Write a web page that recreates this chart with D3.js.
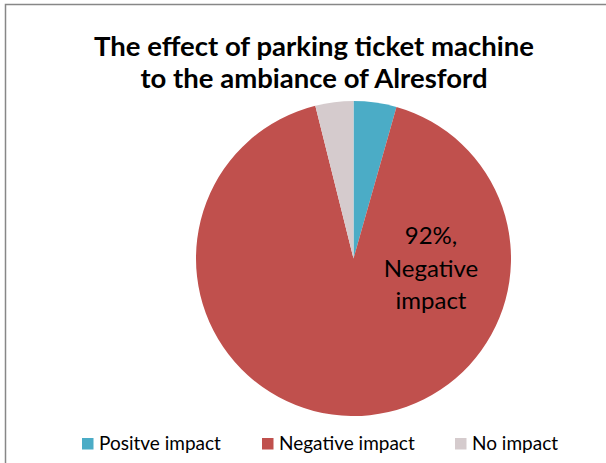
<!DOCTYPE html>
<html><head><meta charset="utf-8">
<script src="https://cdn.jsdelivr.net/npm/d3@7"></script>
<style>body{margin:0;background:#fff;} svg{display:block;}</style>
</head><body>
<div id="chart"></div>
<script>
const categories = ["Positve impact", "Negative impact", "No impact"];
const values = [4.4, 91.7, 3.9];
const colors = ["#4BACC6", "#C0504D", "#D5CBCD"];
const titleLines = ["The effect of parking ticket machine", "to the ambiance of Alresford"];

const W = 606, H = 463;
const svg = d3.select("#chart").append("svg").attr("width", W).attr("height", H);
const font = "Lato, 'Open Sans', sans-serif";

// frame
svg.append("path").attr("d", `M5.5,463 L5.5,4.5 L606,4.5`).attr("fill", "none")
  .attr("stroke", "#878787").attr("stroke-width", 1.5);

// title
svg.append("text").attr("text-anchor", "middle")
  .attr("font-family", font).attr("font-weight", "bold").attr("font-size", 27.5).attr("fill", "#000")
  .selectAll("tspan").data(titleLines).join("tspan")
  .attr("x", 314).attr("y", (d, i) => 56 + i * 32).text(d => d);

// pie
const cx = 353.5, cy = 258.5, r = 157.5;
const pie = d3.pie().sort(null).value(d => d);
const arcs = pie(values);
const arc = d3.arc().innerRadius(0).outerRadius(r);
const g = svg.append("g").attr("transform", `translate(${cx},${cy})`);
g.selectAll("path").data(arcs).join("path").attr("d", arc)
  .attr("fill", (d, i) => colors[i]);

// data label for Negative impact
const total = d3.sum(values);
const labelLines = [Math.round(values[1] / total * 100) + "%,", "Negative", "impact"];
svg.append("text").attr("text-anchor", "middle")
  .attr("font-family", font).attr("font-size", 24).attr("fill", "#000")
  .selectAll("tspan").data(labelLines).join("tspan")
  .attr("x", 431).attr("y", (d, i) => 244 + i * 32.5).text(d => d);

// legend
const legendX = [82, 262, 455];
const lg = svg.append("g");
categories.forEach((c, i) => {
  lg.append("rect").attr("x", legendX[i]).attr("y", 438).attr("width", 11.5).attr("height", 11.5)
    .attr("fill", colors[i]);
  lg.append("text").attr("x", legendX[i] + 17).attr("y", 450)
    .attr("font-family", font).attr("font-size", 19).attr("fill", "#000").text(c);
});
</script>
</body></html>
